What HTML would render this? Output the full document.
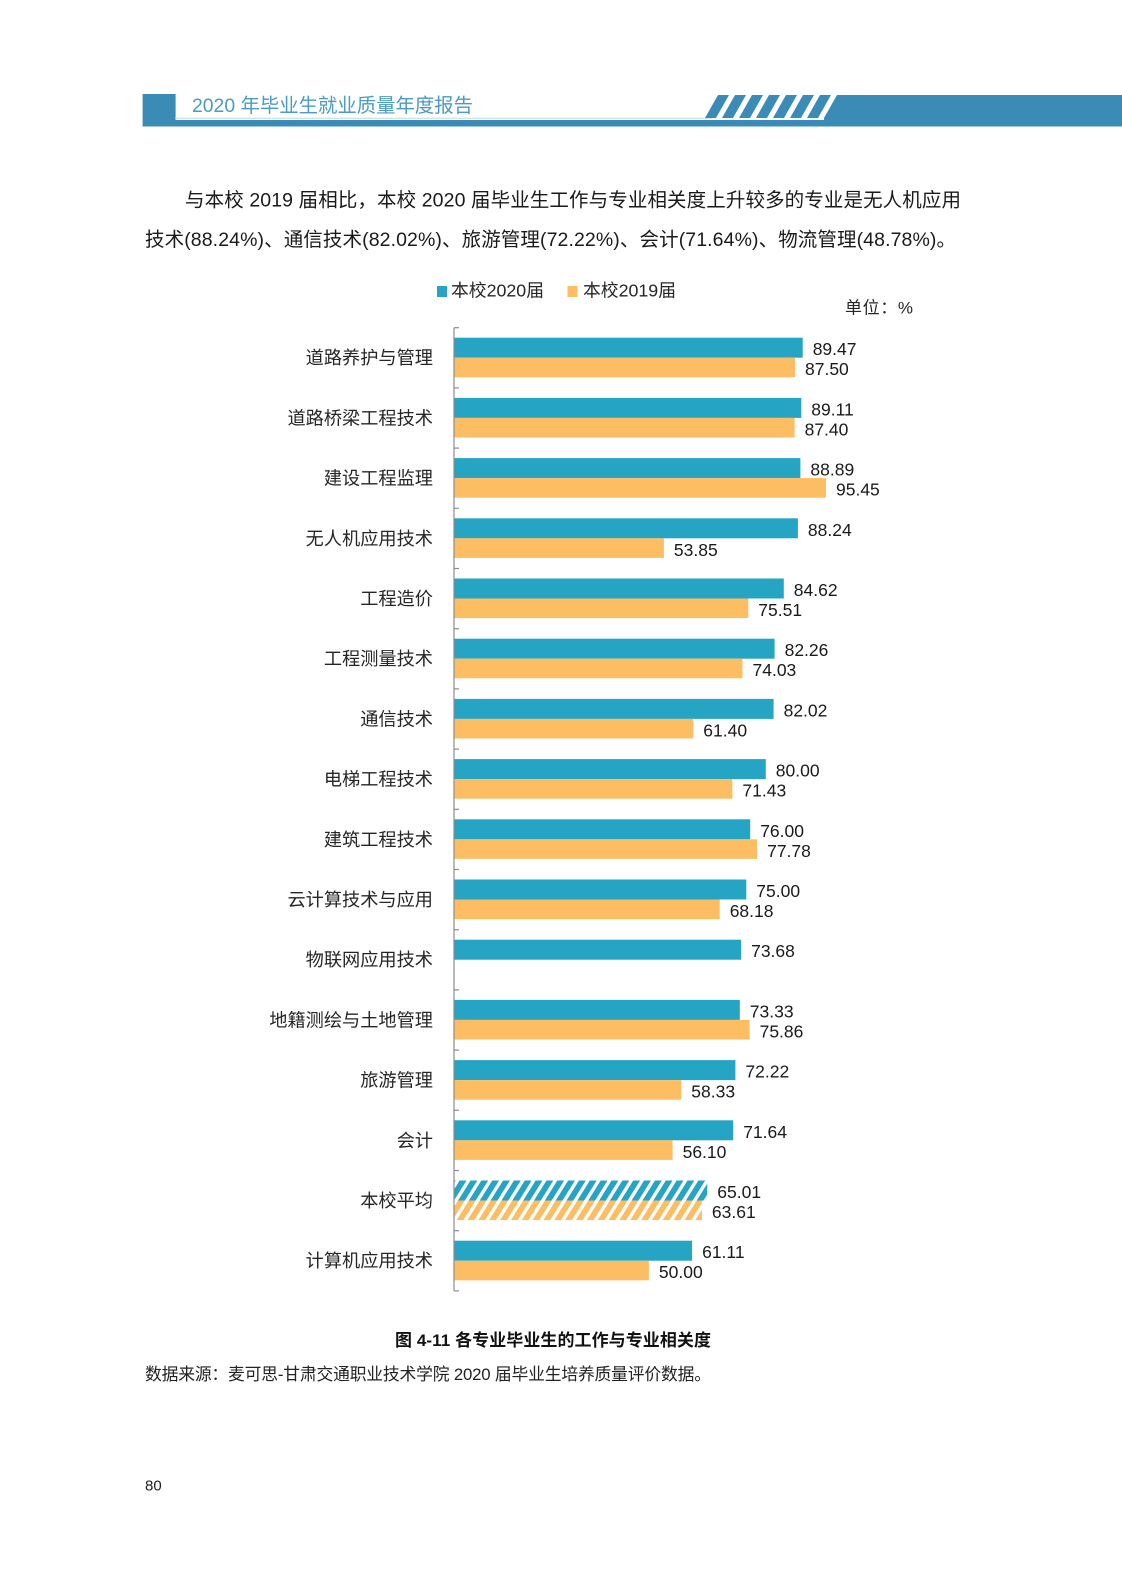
<!DOCTYPE html>
<html>
<head>
<meta charset="utf-8">
<style>
html,body{margin:0;padding:0;background:#fff;}
body{width:1122px;height:1587px;overflow:hidden;}
svg{display:block;}
.cjk{font-family:"Liberation Sans","Noto Sans CJK SC",sans-serif;}
.cat{font-family:"Liberation Sans","Noto Sans CJK SC",sans-serif;font-size:18.2px;fill:#262626;}
.val{font-family:"Liberation Sans",sans-serif;font-size:17.5px;fill:#1a1a1a;}
</style>
</head>
<body>
<svg width="1122" height="1587" viewBox="0 0 1122 1587" xmlns="http://www.w3.org/2000/svg">
<defs>
<pattern id="hb" width="9.2" height="9.2" patternUnits="userSpaceOnUse" patternTransform="rotate(32)">
<rect x="0" y="0" width="9.2" height="9.2" fill="#26a4c4"/>
<rect x="0" y="0" width="3.4" height="9.2" fill="#ffffff"/>
</pattern>
<pattern id="ho" width="9.2" height="9.2" patternUnits="userSpaceOnUse" patternTransform="rotate(32)">
<rect x="0" y="0" width="9.2" height="9.2" fill="#fdbd62"/>
<rect x="0" y="0" width="3.4" height="9.2" fill="#ffffff"/>
</pattern>
</defs>

<!-- Header -->
<rect x="142.6" y="94" width="33" height="32.5" fill="#3a8cb6"/>
<rect x="175" y="120" width="947" height="6.5" fill="#3a8cb6"/>
<line x1="175" y1="118.3" x2="712" y2="118.3" stroke="#c8d6de" stroke-width="1"/>
<g fill="#3a8cb6">
<polygon points="705,118 716,118 729,95 718,95"/>
<polygon points="722,118 733,118 746,95 735,95"/>
<polygon points="739,118 750,118 763,95 752,95"/>
<polygon points="756,118 767,118 780,95 769,95"/>
<polygon points="773,118 784,118 797,95 786,95"/>
<polygon points="790,118 801,118 814,95 803,95"/>
<polygon points="807,118 818,118 831,95 820,95"/>
<polygon points="824,120 824,118 837,95 1122,95 1122,120"/>
</g>
<text x="192" y="112" class="cjk" font-size="19.4" fill="#4b9bc2" textLength="281" lengthAdjust="spacingAndGlyphs">2020 年毕业生就业质量年度报告</text>

<!-- Paragraph -->
<text x="185" y="206.5" class="cjk" font-size="19.5" fill="#1a1a1a" textLength="776" lengthAdjust="spacing">与本校 2019 届相比，本校 2020 届毕业生工作与专业相关度上升较多的专业是无人机应用</text>
<text x="145" y="246" class="cjk" font-size="19.5" fill="#1a1a1a" textLength="811" lengthAdjust="spacing">技术(88.24%)、通信技术(82.02%)、旅游管理(72.22%)、会计(71.64%)、物流管理(48.78%)。</text>

<!-- Legend -->
<rect x="437" y="286" width="10" height="11" fill="#26a4c4"/>
<text x="451" y="296.5" class="cjk" font-size="17.5" fill="#262626" textLength="93" lengthAdjust="spacingAndGlyphs">本校2020届</text>
<rect x="567.5" y="286" width="10" height="11" fill="#fdbd62"/>
<text x="583" y="296.5" class="cjk" font-size="17.5" fill="#262626" textLength="93" lengthAdjust="spacingAndGlyphs">本校2019届</text>
<text x="845" y="313.5" class="cjk" font-size="17" fill="#262626" textLength="68" lengthAdjust="spacing">单位：%</text>

<!-- Bars -->
<g>
<rect x="454" y="337.7" width="348.7" height="20" fill="#26a4c4"/><rect x="454" y="357.7" width="341.0" height="19.6" fill="#fdbd62"/>
<rect x="454" y="397.9" width="347.3" height="20" fill="#26a4c4"/><rect x="454" y="417.9" width="340.6" height="19.6" fill="#fdbd62"/>
<rect x="454" y="458.1" width="346.4" height="20" fill="#26a4c4"/><rect x="454" y="478.1" width="372.0" height="19.6" fill="#fdbd62"/>
<rect x="454" y="518.3" width="343.9" height="20" fill="#26a4c4"/><rect x="454" y="538.3" width="209.9" height="19.6" fill="#fdbd62"/>
<rect x="454" y="578.5" width="329.8" height="20" fill="#26a4c4"/><rect x="454" y="598.5" width="294.3" height="19.6" fill="#fdbd62"/>
<rect x="454" y="638.7" width="320.6" height="20" fill="#26a4c4"/><rect x="454" y="658.7" width="288.5" height="19.6" fill="#fdbd62"/>
<rect x="454" y="698.9" width="319.6" height="20" fill="#26a4c4"/><rect x="454" y="718.9" width="239.3" height="19.6" fill="#fdbd62"/>
<rect x="454" y="759.1" width="311.8" height="20" fill="#26a4c4"/><rect x="454" y="779.1" width="278.4" height="19.6" fill="#fdbd62"/>
<rect x="454" y="819.3" width="296.2" height="20" fill="#26a4c4"/><rect x="454" y="839.3" width="303.1" height="19.6" fill="#fdbd62"/>
<rect x="454" y="879.5" width="292.3" height="20" fill="#26a4c4"/><rect x="454" y="899.5" width="265.7" height="19.6" fill="#fdbd62"/>
<rect x="454" y="939.7" width="287.1" height="20" fill="#26a4c4"/>
<rect x="454" y="999.9" width="285.8" height="20" fill="#26a4c4"/><rect x="454" y="1019.9" width="295.6" height="19.6" fill="#fdbd62"/>
<rect x="454" y="1060.1" width="281.4" height="20" fill="#26a4c4"/><rect x="454" y="1080.1" width="227.3" height="19.6" fill="#fdbd62"/>
<rect x="454" y="1120.3" width="279.2" height="20" fill="#26a4c4"/><rect x="454" y="1140.3" width="218.6" height="19.6" fill="#fdbd62"/>
<rect x="454" y="1180.5" width="253.3" height="20" fill="url(#hb)"/><rect x="454" y="1200.5" width="247.9" height="19.6" fill="url(#ho)"/>
<rect x="454" y="1240.7" width="238.1" height="20" fill="#26a4c4"/><rect x="454" y="1260.7" width="194.9" height="19.6" fill="#fdbd62"/>
</g>

<!-- Axis -->
<g stroke="#8c8c8c" stroke-width="1.2">
<line x1="454" y1="327.7" x2="454" y2="1290.9"/>
<line x1="454" y1="327.7" x2="459" y2="327.7"/>
<line x1="454" y1="387.9" x2="459" y2="387.9"/>
<line x1="454" y1="448.1" x2="459" y2="448.1"/>
<line x1="454" y1="508.3" x2="459" y2="508.3"/>
<line x1="454" y1="568.5" x2="459" y2="568.5"/>
<line x1="454" y1="628.7" x2="459" y2="628.7"/>
<line x1="454" y1="688.9" x2="459" y2="688.9"/>
<line x1="454" y1="749.1" x2="459" y2="749.1"/>
<line x1="454" y1="809.3" x2="459" y2="809.3"/>
<line x1="454" y1="869.5" x2="459" y2="869.5"/>
<line x1="454" y1="929.7" x2="459" y2="929.7"/>
<line x1="454" y1="989.9" x2="459" y2="989.9"/>
<line x1="454" y1="1050.1" x2="459" y2="1050.1"/>
<line x1="454" y1="1110.3" x2="459" y2="1110.3"/>
<line x1="454" y1="1170.5" x2="459" y2="1170.5"/>
<line x1="454" y1="1230.7" x2="459" y2="1230.7"/>
<line x1="454" y1="1290.9" x2="459" y2="1290.9"/>
</g>

<!-- Category labels -->
<g class="cat" text-anchor="end">
<text x="433" y="364.2">道路养护与管理</text>
<text x="433" y="424.4">道路桥梁工程技术</text>
<text x="433" y="484.6">建设工程监理</text>
<text x="433" y="544.8">无人机应用技术</text>
<text x="433" y="605.0">工程造价</text>
<text x="433" y="665.2">工程测量技术</text>
<text x="433" y="725.4">通信技术</text>
<text x="433" y="785.6">电梯工程技术</text>
<text x="433" y="845.8">建筑工程技术</text>
<text x="433" y="906.0">云计算技术与应用</text>
<text x="433" y="966.2">物联网应用技术</text>
<text x="433" y="1026.4">地籍测绘与土地管理</text>
<text x="433" y="1086.6">旅游管理</text>
<text x="433" y="1146.8">会计</text>
<text x="433" y="1207.0">本校平均</text>
<text x="433" y="1267.2">计算机应用技术</text>
</g>

<!-- Value labels -->
<g class="val">
<text x="812.7" y="355.2">89.47</text><text x="805.0" y="375.2">87.50</text>
<text x="811.3" y="415.4">89.11</text><text x="804.6" y="435.4">87.40</text>
<text x="810.4" y="475.6">88.89</text><text x="836.0" y="495.6">95.45</text>
<text x="807.9" y="535.8">88.24</text><text x="673.9" y="555.8">53.85</text>
<text x="793.8" y="596.0">84.62</text><text x="758.3" y="616.0">75.51</text>
<text x="784.6" y="656.2">82.26</text><text x="752.5" y="676.2">74.03</text>
<text x="783.6" y="716.4">82.02</text><text x="703.3" y="736.4">61.40</text>
<text x="775.8" y="776.6">80.00</text><text x="742.4" y="796.6">71.43</text>
<text x="760.2" y="836.8">76.00</text><text x="767.1" y="856.8">77.78</text>
<text x="756.3" y="897.0">75.00</text><text x="729.7" y="917.0">68.18</text>
<text x="751.1" y="957.2">73.68</text>
<text x="749.8" y="1017.4">73.33</text><text x="759.6" y="1037.4">75.86</text>
<text x="745.4" y="1077.6">72.22</text><text x="691.3" y="1097.6">58.33</text>
<text x="743.2" y="1137.8">71.64</text><text x="682.6" y="1157.8">56.10</text>
<text x="717.3" y="1198.0">65.01</text><text x="711.9" y="1218.0">63.61</text>
<text x="702.1" y="1258.2">61.11</text><text x="658.9" y="1278.2">50.00</text>
</g>

<!-- Caption & source -->
<text x="395" y="1346" font-family="'Liberation Sans','Noto Sans CJK SC',sans-serif" font-weight="bold" font-size="17" fill="#111" textLength="316" lengthAdjust="spacing">图 4-11  各专业毕业生的工作与专业相关度</text>
<text x="145" y="1380" class="cjk" font-size="16.8" fill="#222" textLength="566" lengthAdjust="spacing">数据来源：麦可思-甘肃交通职业技术学院 2020 届毕业生培养质量评价数据。</text>

<!-- Page number -->
<text x="145" y="1490.5" font-family="'Liberation Sans',sans-serif" font-size="15" fill="#222">80</text>
</svg>
</body>
</html>
